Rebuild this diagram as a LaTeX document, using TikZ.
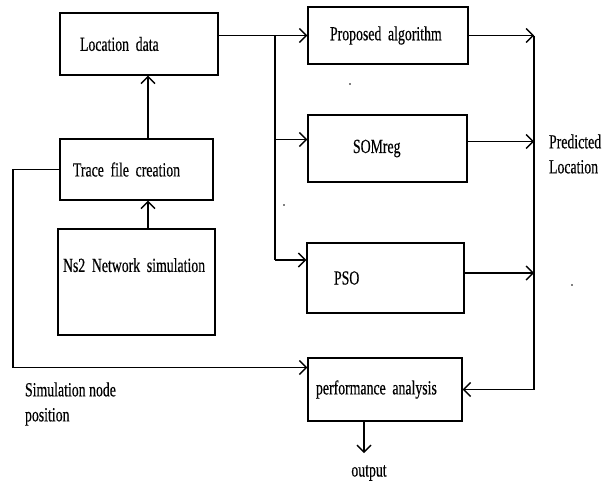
\documentclass[tikz,border=0pt]{standalone}
\usepackage{fontspec}
\setmainfont{Liberation Serif}[FakeStretch=0.69, FakeBold=0.4]
\usetikzlibrary{arrows.meta}
\newcommand\diagfont{\fontsize{20}{25}\selectfont\spaceskip=3.5pt plus 1pt\relax}
\begin{document}
\begin{tikzpicture}[x=1pt, y=-1pt, line width=1.4pt,
    font=\diagfont,
    box/.style={draw, align=left, inner ysep=0pt},
    arr/.style={-{Straight Barb[length=7pt,width=14pt,line width=1.4pt]}}]
    \useasboundingbox (0,0) rectangle (612,483);

    % left column
    \node[box, minimum height=62pt, inner xsep=20pt, text width=118pt] (loc) at (139,44) {Location data};
    \node[box, minimum height=61pt, inner xsep=13pt, text width=127pt] (trace) at (136.5,169.5) {Trace file creation};
    \node[box, minimum height=106pt, inner xsep=5pt, text width=147pt, text depth=34pt] (ns2) at (136.5,282) {Ns2 Network simulation};

    % right column
    \node[box, minimum height=57pt, inner xsep=22pt, text width=116pt] (prop) at (388,35.5) {Proposed algorithm};
    \node[box, minimum height=67pt, inner xsep=45pt, text width=69pt] (som) at (387.5,148.5) {SOMreg};
    \node[box, minimum height=70pt, inner xsep=27pt, text width=103pt] (pso) at (385.5,278) {PSO};
    \node[box, minimum height=63pt, inner xsep=8pt, text width=138pt] (perf) at (385,389.5) {performance analysis};

    \node[align=left, anchor=west] (pred) at (545,154) {Predicted\\Location};
    \node[align=left, anchor=west] (simpos) at (21,404) {Simulation node\\position};
    \node (out) at (369,473) {output};

    \coordinate (spine) at (148,0);
    \coordinate (split) at (275,0);
    \coordinate (merge) at (534,0);
    \coordinate (rail) at (13,0);
    \coordinate (somin) at ([yshift=9pt]som.west);
    \coordinate (psoin) at ([yshift=18pt]pso.west);
    \coordinate (somout) at ([yshift=7pt]som.east);
    \coordinate (psoout) at ([yshift=5pt]pso.east);
    \coordinate (perfin) at ([yshift=22pt]perf.west);
    \coordinate (outtip) at (364,453);

    \draw[arr] (spine |- ns2.north) -- (spine |- trace.south);
    \draw[arr] (spine |- trace.north) -- (spine |- loc.south);

    \draw[arr] (loc.east |- prop.west) -- (prop.west);
    \draw (split |- prop.west) -- (split |- psoin);
    \draw[arr] (split |- somin) -- (somin);
    \draw[arr] (split |- psoin) -- (psoin);

    \draw[arr] (prop.east) -- (merge |- prop.east);
    \draw[arr] (somout) -- (merge |- somout);
    \draw[arr] (psoout) -- (merge |- psoout);
    \draw[arr] (merge |- prop.east) -- (merge |- perf.east) -- (perf.east);

    \draw[arr] (trace.west) -- (rail |- trace.west) -- (rail |- perfin) -- (perfin);
    \draw[arr] (perf.south -| outtip) -- (outtip);

    % stray dots
    \fill (350,84) circle (0.9pt);
    \fill (284,205) circle (0.9pt);
    \fill (572,285) circle (0.9pt);
\end{tikzpicture}
\end{document}
